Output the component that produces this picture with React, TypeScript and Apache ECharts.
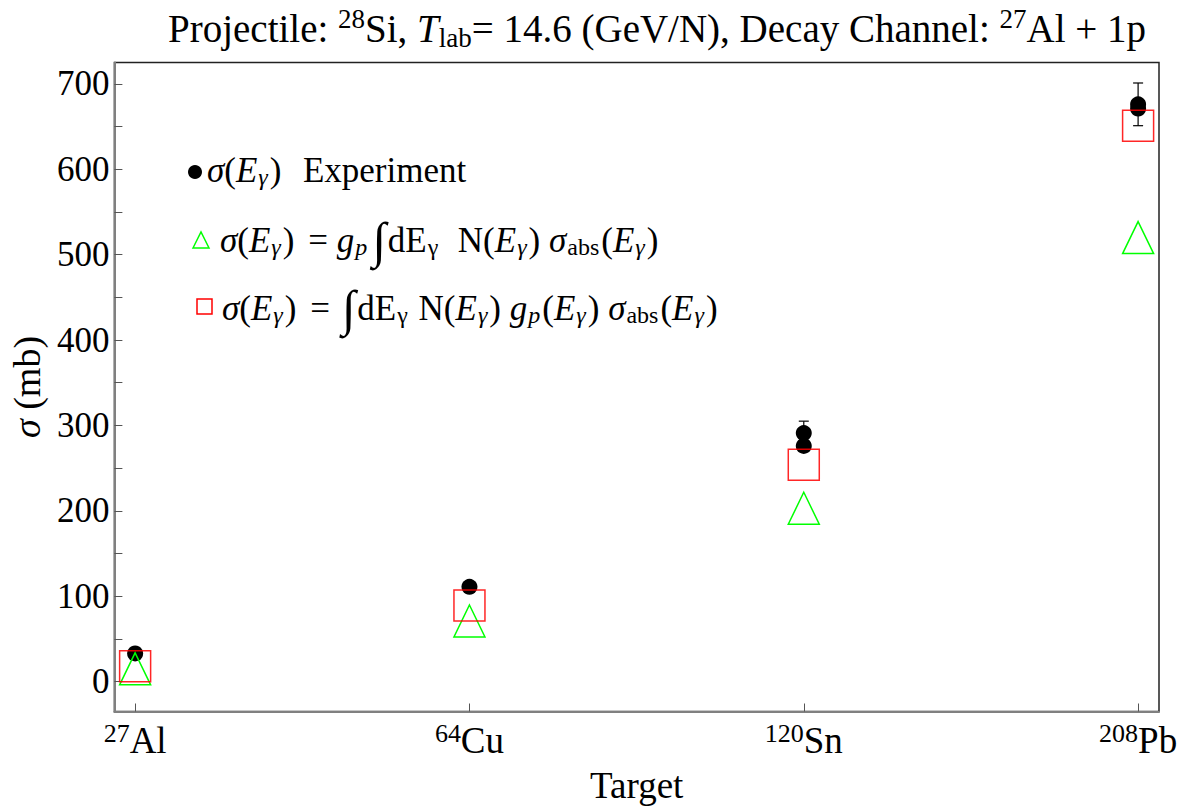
import React, { useEffect, useRef } from "react";
import * as echarts from "echarts";

const targets = ["Al", "Cu", "Sn", "Pb"];
const massNumbers = ["27", "64", "120", "208"];
const targetPos = [0, 1, 2, 3];

// Experiment (black dots) with error bars
const expX = [0, 1, 2, 2, 3, 3];
const expY = [33, 111, 291, 276, 676, 671];
const expErr = [0, 0, 14, 0, 25, 0];

// Model with constant g_p (green triangles)
const triY = [15, 71, 203, 520];
// Model with energy-dependent g_p (red squares)
const sqY = [18, 89, 254, 651];

const yTickValues = [0, 100, 200, 300, 400, 500, 600, 700];
const yMinorTicks = [0, 50, 100, 150, 200, 250, 300, 350, 400, 450, 500, 550, 600, 650, 700];

const FONT = "'Liberation Serif', 'Times New Roman', serif";

export default function App() {
  const ref = useRef<HTMLDivElement>(null);
  useEffect(() => {
    if (!ref.current) return;
    const chart = echarts.init(ref.current, null, { renderer: "svg" });

    const FS = 35;
    const SS = 24;
    const mathRich = {
      n: { fontFamily: FONT, fontSize: FS, color: "#000", lineHeight: 46 },
      it: { fontFamily: FONT, fontSize: FS, fontStyle: "italic", color: "#000", lineHeight: 46 },
      isub: { fontFamily: FONT, fontSize: SS, fontStyle: "italic", color: "#000", verticalAlign: "bottom", lineHeight: 24, padding: [0, 2, 4, 1] },
      sub: { fontFamily: FONT, fontSize: SS, color: "#000", verticalAlign: "bottom", lineHeight: 24, padding: [0, 2, 4, 1] },
      int: { fontFamily: FONT, fontSize: 50, color: "#000", lineHeight: 46, padding: [0, 2, 0, 3] },
      sp: { fontFamily: FONT, fontSize: FS, color: "#000", lineHeight: 46, width: 4 },
      sp2: { fontFamily: FONT, fontSize: FS, color: "#000", lineHeight: 46, width: 5 },
    };

    const option: any = {
      animation: false,
      backgroundColor: "#fff",
      title: {
        text: "{n|Projectile: }{sup|28}{n|Si, }{it|T}{sub|lab}{n|= 14.6 (GeV/N), Decay Channel: }{sup|27}{n|Al + 1p}",
        left: 652,
        top: 0,
        textAlign: "center",
        textStyle: {
          fontWeight: "normal",
          rich: {
            n: { fontFamily: FONT, fontSize: 39, fontWeight: "normal", color: "#000", lineHeight: 46 },
            it: { fontFamily: FONT, fontSize: 39, fontStyle: "italic", fontWeight: "normal", color: "#000", lineHeight: 46 },
            sup: { fontFamily: FONT, fontSize: 27, fontWeight: "normal", color: "#000", verticalAlign: "top", lineHeight: 27 },
            sub: { fontFamily: FONT, fontSize: 27, fontWeight: "normal", color: "#000", verticalAlign: "bottom", lineHeight: 27 },
          },
        },
      },
      grid: {
        left: 109,
        right: 35,
        top: 62.5,
        bottom: 99.5,
        show: true,
        borderColor: "#222",
        borderWidth: 1.5,
        containLabel: false,
      },
      xAxis: {
        type: "value",
        min: -0.062,
        max: 3.0625,
        name: "Target",
        nameLocation: "middle",
        nameGap: 55,
        nameTextStyle: { fontFamily: FONT, fontSize: 37, color: "#000" },
        axisLine: { show: true, onZero: false, lineStyle: { color: "#808080", width: 2 } },
        axisTick: { show: true, inside: true, length: 8, lineStyle: { color: "#555", width: 1 }, customValues: targetPos },
        axisLabel: {
          customValues: targetPos,
          margin: 9,
          formatter: (v: number) => {
            const i = Math.round(v);
            return `{sup|${massNumbers[i]}}{el|${targets[i]}}`;
          },
          rich: {
            sup: { fontFamily: FONT, fontSize: 26, color: "#000", verticalAlign: "top", lineHeight: 25 },
            el: { fontFamily: FONT, fontSize: 37, color: "#000", lineHeight: 40 },
          },
        },
        splitLine: { show: false },
      },
      yAxis: {
        type: "value",
        min: -35,
        max: 725,
        name: "{it|σ}{n| (mb)}",
        nameLocation: "middle",
        nameGap: 52,
        nameRotate: 90,
        nameTextStyle: {
          rich: {
            it: { fontFamily: FONT, fontSize: 38, fontStyle: "italic", color: "#000" },
            n: { fontFamily: FONT, fontSize: 38, color: "#000" },
          },
        },
        axisLine: { show: true, onZero: false, lineStyle: { color: "#808080", width: 2 } },
        axisTick: { show: true, inside: true, length: 8, lineStyle: { color: "#555", width: 1 }, customValues: yMinorTicks },
        axisLabel: {
          customValues: yTickValues,
          margin: 5,
          fontFamily: FONT,
          fontSize: 35,
          color: "#000",
        },
        splitLine: { show: false },
      },
      series: [
        {
          name: "Experiment",
          type: "scatter",
          symbol: "circle",
          symbolSize: 16,
          itemStyle: { color: "#000", opacity: 1 },
          data: expX.map((x, i) => [x, expY[i]]),
          z: 2,
        },
        {
          name: "errors",
          type: "custom",
          data: expX.map((x, i) => [x, expY[i], expErr[i]]).filter((d) => d[2] > 0),
          renderItem: (params: any, api: any) => {
            const x = api.value(0);
            const y = api.value(1);
            const e = api.value(2);
            const top = api.coord([x, y + e]);
            const bot = api.coord([x, y - e]);
            const w = 5;
            const st = { stroke: "#000", lineWidth: 1.2 };
            return {
              type: "group",
              children: [
                { type: "line", shape: { x1: top[0], y1: top[1], x2: bot[0], y2: bot[1] }, style: st },
                { type: "line", shape: { x1: top[0] - w, y1: top[1], x2: top[0] + w, y2: top[1] }, style: st },
                { type: "line", shape: { x1: bot[0] - w, y1: bot[1], x2: bot[0] + w, y2: bot[1] }, style: st },
              ],
            };
          },
          z: 3,
        },
        {
          name: "constant gp",
          type: "scatter",
          symbol: "triangle",
          symbolSize: [31, 32],
          itemStyle: { color: "rgba(0,0,0,0)", borderColor: "#00ff00", borderWidth: 1.5, opacity: 1 },
          data: targetPos.map((x, i) => [x, triY[i]]),
          z: 4,
        },
        {
          name: "energy-dependent gp",
          type: "scatter",
          symbol: "rect",
          symbolSize: 31,
          itemStyle: { color: "rgba(0,0,0,0)", borderColor: "rgba(255,0,0,0.85)", borderWidth: 1.5, opacity: 1 },
          data: targetPos.map((x, i) => [x, sqY[i]]),
          z: 5,
        },
      ],
      graphic: [
        { type: "circle", shape: { cx: 195, cy: 172, r: 7 }, style: { fill: "#000" }, z: 10 },
        {
          type: "text",
          x: 207,
          y: 170,
          style: {
            text: "{it|σ}{n|(}{it|E}{isub|γ}{n|)}{sp|}{n|  Experiment}",
            rich: mathRich,
            verticalAlign: "middle",
            align: "left",
          },
          z: 10,
        },
        {
          type: "polygon",
          shape: { points: [[193, 248], [201, 232], [209, 248]] },
          style: { fill: "none", stroke: "#00ff00", lineWidth: 1.5 },
          z: 10,
        },
        {
          type: "text",
          x: 220,
          y: 240,
          style: {
            text: "{it|σ}{n|(}{it|E}{isub|γ}{n|)}{sp2|}{n| = }{it|g}{isub|p}{int|∫}{n|dE}{sub|γ}{n|  N(}{it|E}{isub|γ}{n|) }{it|σ}{sub|abs}{n|(}{it|E}{isub|γ}{n|)}",
            rich: mathRich,
            verticalAlign: "middle",
            align: "left",
          },
          z: 10,
        },
        {
          type: "rect",
          shape: { x: 197, y: 299, width: 15, height: 15 },
          style: { fill: "none", stroke: "#ff0000", lineWidth: 1.5 },
          z: 10,
        },
        {
          type: "text",
          x: 222,
          y: 308,
          style: {
            text: "{it|σ}{n|(}{it|E}{isub|γ}{n|)}{sp2|}{n| = }{int|∫}{n|dE}{sub|γ}{n| N(}{it|E}{isub|γ}{n|) }{it|g}{isub|p}{n|(}{it|E}{isub|γ}{n|) }{it|σ}{sub|abs}{n|(}{it|E}{isub|γ}{n|)}",
            rich: mathRich,
            verticalAlign: "middle",
            align: "left",
          },
          z: 10,
        },
      ],
    };
    chart.setOption(option);
    return () => chart.dispose();
  }, []);
  return (
    <div
      ref={ref}
      style={{ position: "fixed", left: 0, top: 0, width: 1194, height: 811, background: "#fff" }}
    />
  );
}
